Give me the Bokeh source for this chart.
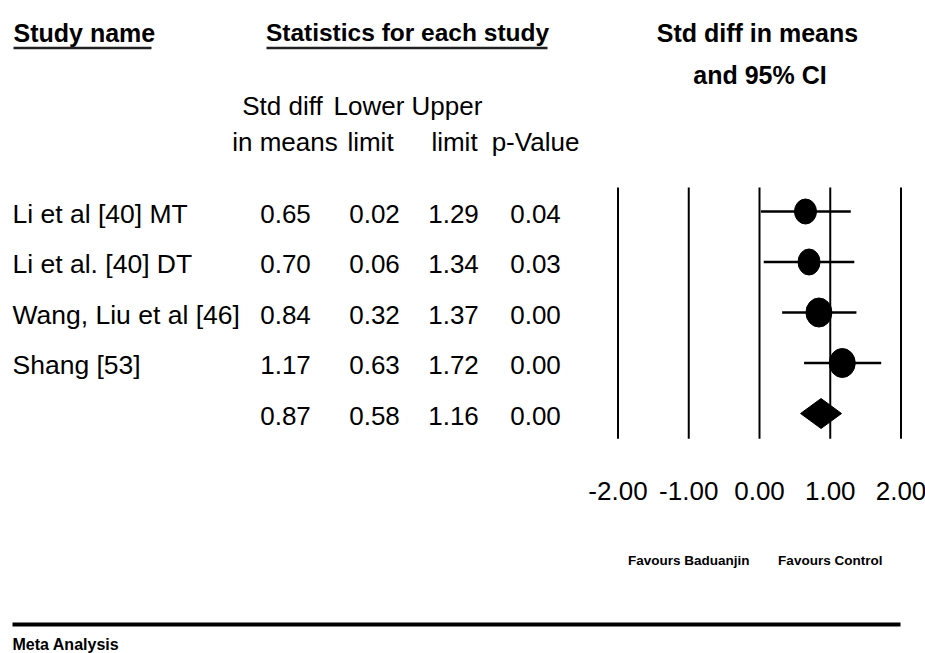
from bokeh.plotting import figure
from bokeh.models import Range1d
from bokeh.core.properties import value
from bokeh.embed import file_html
from bokeh.resources import INLINE

# ---------------- data ----------------
studies = ["Li et al [40] MT", "Li et al. [40] DT", "Wang, Liu et al [46]", "Shang [53]"]
smd = [0.65, 0.70, 0.84, 1.17]
lower = [0.02, 0.06, 0.32, 0.63]
upper = [1.29, 1.34, 1.37, 1.72]
pval = [0.04, 0.03, 0.00, 0.00]
pooled_smd = 0.87
pooled_lower = 0.58
pooled_upper = 1.16
pooled_p = 0.00
ticks = [-2.0, -1.0, 0.0, 1.0, 2.0]

# ---------------- layout constants (picture pixels) ----------------
W, H = 925, 653
ZERO_PX, UNIT_PX = 759.0, 70.75  # forest x mapping
ROW0_PX, ROW_PX = 211.0, 50.5    # forest row mapping
FONT = value("Liberation Sans")

p = figure(width=W, height=H,
           x_range=Range1d(0, W), y_range=Range1d(H, 0),
           x_axis_type=None, y_axis_type=None,
           output_backend="svg", toolbar_location=None,
           min_border=0, outline_line_color=None)
p.grid.visible = False
p.background_fill_color = "white"
p.border_fill_color = "white"

p.extra_x_ranges = {"effect": Range1d(start=(0 - ZERO_PX) / UNIT_PX,
                                      end=(W - ZERO_PX) / UNIT_PX)}
p.extra_y_ranges = {"rows": Range1d(start=(H - ROW0_PX) / ROW_PX,
                                    end=(0 - ROW0_PX) / ROW_PX)}

def txt(x, y, s, size="26px", bold=False, align="left", **kw):
    # y is the vertical centre of the capitals
    p.text(x=x, y=y, text=s if isinstance(s, list) else [s],
           text_font=FONT, text_font_size=size,
           text_font_style="bold" if bold else "normal",
           text_align=align, text_baseline="alphabetic",
           text_color="black", **kw)

# ---------------- headers ----------------
txt([13], [32], "Study name", size="25px", bold=True)
p.segment(x0=[13], y0=[47.5], x1=[151], y1=[47.5], line_width=2.5, line_color="#222222")
txt([407], [32], "Statistics for each study", size="24.5px", bold=True, align="center")
p.segment(x0=[266], y0=[47.5], x1=[547], y1=[47.5], line_width=2.5, line_color="#222222")
txt([757], [32], "Std diff in means", size="25px", bold=True, align="center")
txt([759.5], [74], "and 95% CI", size="25px", bold=True, align="center")

txt([282, 368.5, 446.5], [105, 105, 105], ["Std diff", "Lower", "Upper"], align="center")
txt([284.5, 370, 454, 535], [141, 141, 141, 141], ["in means", "limit", "limit", "p-Value"], align="center")

# ---------------- table ----------------
rows = list(range(len(studies)))
all_rows = rows + [len(studies)]
TXT_DY = 2
p.text(x=[12] * len(studies), y=rows, text=studies, y_range_name="rows",
       text_font=FONT, text_font_size="26.5px", text_align="left",
       text_baseline="alphabetic", text_color="black", y_offset=TXT_DY)

col_x = [285, 374, 453, 535]
cols = [smd + [pooled_smd], lower + [pooled_lower], upper + [pooled_upper], pval + [pooled_p]]
for cx, vals in zip(col_x, cols):
    p.text(x=[cx] * len(vals), y=all_rows, text=["%.2f" % v for v in vals],
           y_range_name="rows", text_font=FONT, text_font_size="26px",
           text_align="center", text_baseline="alphabetic", text_color="black",
           y_offset=TXT_DY)

# ---------------- forest ----------------
p.segment(x0=ticks, x1=ticks, y0=[-0.475] * len(ticks), y1=[4.5] * len(ticks),
          x_range_name="effect", y_range_name="rows", line_color="black", line_width=2)
p.segment(x0=lower, x1=upper, y0=rows, y1=rows,
          x_range_name="effect", y_range_name="rows", line_color="black", line_width=2.5)
marker_w = [22, 22, 26, 26]
marker_h = [25, 26, 29, 29]
p.ellipse(x=smd, y=rows, width=marker_w, height=marker_h,
          width_units="screen", height_units="screen",
          x_range_name="effect", y_range_name="rows",
          fill_color="black", line_color="black")
pr = len(studies)
dh = 15.0 / ROW_PX
p.patches(xs=[[pooled_lower, pooled_smd, pooled_upper, pooled_smd]],
          ys=[[pr, pr - dh, pr, pr + dh]],
          x_range_name="effect", y_range_name="rows",
          fill_color="black", line_color="black")

# tick labels
p.text(x=ticks, y=[490] * len(ticks), text=["%.2f" % t for t in ticks],
       x_range_name="effect", text_font=FONT, text_font_size="26px",
       text_align="center", text_baseline="alphabetic", text_color="black")

p.text(x=[-1, 1], y=[560, 560], text=["Favours Baduanjin", "Favours Control"],
       x_range_name="effect", text_font=FONT, text_font_size="13.5px",
       text_font_style="bold", text_align="center", text_baseline="alphabetic",
       text_color="black")

# ---------------- footer ----------------
p.segment(x0=[12], y0=[624], x1=[900], y1=[624], line_width=4, line_color="black")
txt([12], [644], "Meta Analysis", size="16px", bold=True)

open("out.html", "w").write(file_html(p, INLINE))
